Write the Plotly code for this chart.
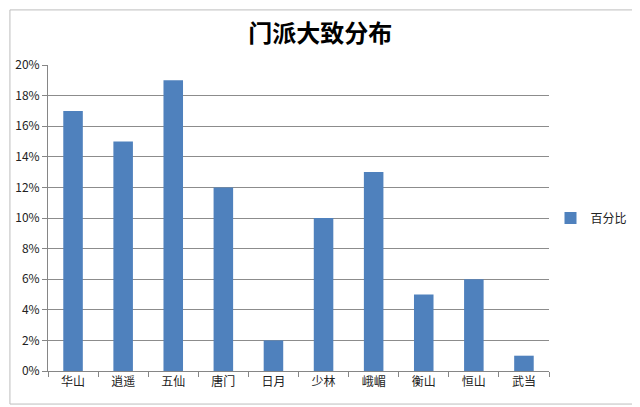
import plotly.graph_objects as go

# 门派与百分比
categories = ["华山", "逍遥", "五仙", "唐门", "日月", "少林", "峨嵋", "衡山", "恒山", "武当"]
percent = [0.17, 0.15, 0.19, 0.12, 0.02, 0.10, 0.13, 0.05, 0.06, 0.01]
y_ticks = [0, 0.02, 0.04, 0.06, 0.08, 0.10, 0.12, 0.14, 0.16, 0.18, 0.20]
y_labels = ["0%", "2%", "4%", "6%", "8%", "10%", "12%", "14%", "16%", "18%", "20%"]

fig = go.Figure()
fig.add_trace(go.Bar(
    x=categories,
    y=percent,
    name="百分比",
    marker=dict(color="#4F81BD", line=dict(width=0)),
    showlegend=True
))

# 页面有 8px 的边距，所以图整体缩小一点
fig.update_layout(
    width=632,
    height=399,
    margin=dict(l=40, r=91, t=57, b=36, autoexpand=False),
    paper_bgcolor="white",
    plot_bgcolor="white",
    font=dict(family="Noto Sans CJK SC", size=12, color="#222"),
    title=dict(
        text="<b>门派大致分布</b>",
        x=0.494, xanchor="center",
        y=0.937, yanchor="middle",
        font=dict(family="Noto Sans CJK SC", size=24, color="black")
    ),
    bargap=0.61,
    legend=dict(
        x=1.003, y=0.5, xanchor="left", yanchor="middle",
        font=dict(size=12, color="#222"),
        itemwidth=30
    ),
    xaxis=dict(
        showline=True, linecolor="#868686", linewidth=1,
        ticks="outside", tickson="boundaries", ticklen=5, tickcolor="#868686",
        tickfont=dict(size=12, color="#222"),
        showgrid=False
    ),
    yaxis=dict(
        range=[0, 0.2],
        tickvals=y_ticks, ticktext=y_labels,
        showline=True, linecolor="#868686", linewidth=1,
        ticks="outside", ticklen=5, tickcolor="#868686",
        showgrid=True, gridcolor="#8c8c8c", gridwidth=1,
        zeroline=False
    ),
    shapes=[dict(
        type="rect", xref="paper", yref="paper",
        x0=-0.076, x1=1.176, y0=-0.108, y1=1.18,
        line=dict(color="#bdbdbd", width=1)
    )]
)

fig.write_html("out.html")
